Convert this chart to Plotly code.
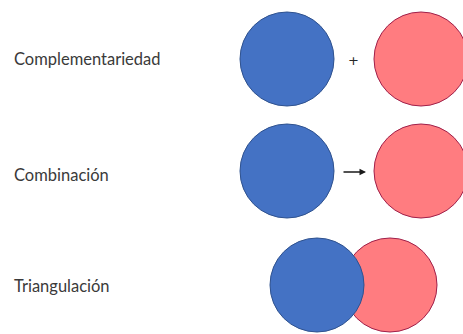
import plotly.graph_objects as go

labels = ["Complementariedad", "Combinación", "Triangulación"]
label_y = [59, 175, 286]
row_y = [59, 171, 285]
blue_x = [287, 287, 317]
red_x = [421, 421, 390]
radius = 47
connectors = ["+", "→", ""]

blue_fill, blue_line = "#4472C4", "#2F528F"
red_fill, red_line = "#FF7C80", "#A0204A"

fig = go.Figure()

for i in range(3):
    y = row_y[i]
    # red first so the blue one sits on top in the overlap
    fig.add_shape(type="circle", xref="x", yref="y",
                  x0=red_x[i] - radius, x1=red_x[i] + radius,
                  y0=y - radius, y1=y + radius,
                  fillcolor=red_fill, line=dict(color=red_line, width=1))
    fig.add_shape(type="circle", xref="x", yref="y",
                  x0=blue_x[i] - radius, x1=blue_x[i] + radius,
                  y0=y - radius, y1=y + radius,
                  fillcolor=blue_fill, line=dict(color=blue_line, width=1))

    fig.add_annotation(x=12, y=label_y[i], text=labels[i], showarrow=False,
                       xanchor="left", yanchor="middle",
                       font=dict(family="Lato, Open Sans, sans-serif", size=16.5, color="#3a3a3a"))

# plus sign between the first pair
fig.add_annotation(x=353, y=row_y[0] + 1, text=connectors[0], showarrow=False,
                   font=dict(family="DejaVu Sans, sans-serif", size=13, color="#262626"))

# arrow between the second pair
fig.add_annotation(x=366, y=row_y[1] + 1, ax=342, ay=row_y[1] + 1,
                   xref="x", yref="y", axref="x", ayref="y",
                   text="", showarrow=True, arrowhead=2, arrowsize=1,
                   arrowwidth=1.3, arrowcolor="#1a1a1a")

fig.update_xaxes(range=[0, 463], visible=False, fixedrange=True)
fig.update_yaxes(range=[334, 0], visible=False, fixedrange=True)
fig.update_layout(width=463, height=334, margin=dict(l=0, r=0, t=0, b=0),
                  plot_bgcolor="white", paper_bgcolor="white", showlegend=False)

fig.write_html("out.html", config={"displayModeBar": False},
               post_script="document.body.style.margin='0';")
